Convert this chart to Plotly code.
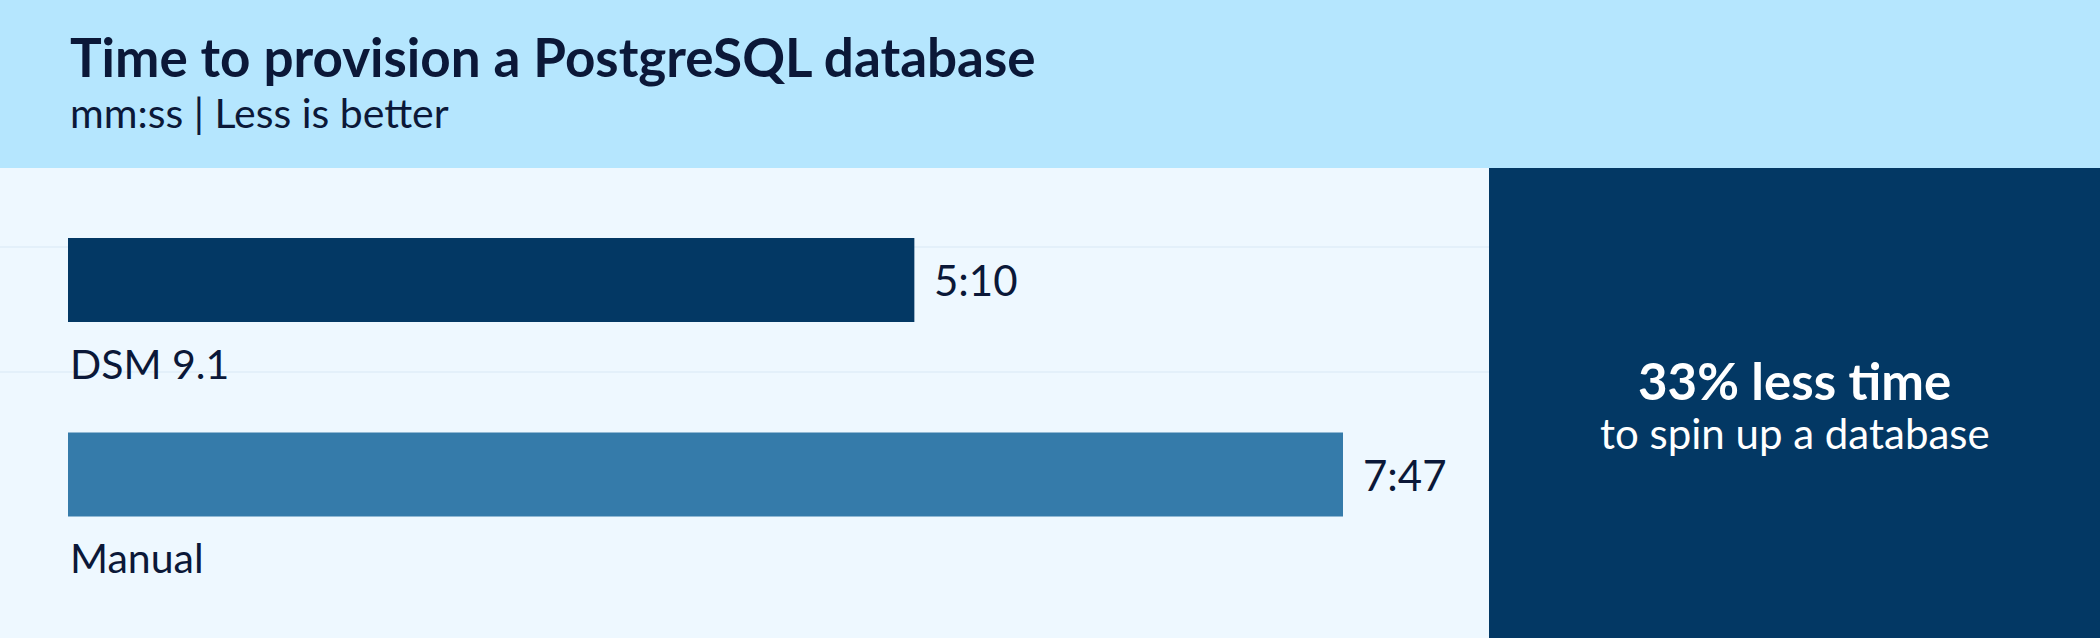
import plotly.graph_objects as go

# ---- data ----
categories = ["DSM 9.1", "Manual"]
seconds = [310, 467]          # 5:10 and 7:47
bar_colors = ["#033864", "#357BAA"]
title = "Time to provision a PostgreSQL database"
subtitle = "mm:ss | Less is better"
callout_main = "33% less time"
callout_sub = "to spin up a database"

def mmss(s):
    return f"{s // 60}:{s % 60:02d}"

W, H = 2100, 638
L, R, T, B = 68, 611, 168, 0
pw, ph = W - L - R, H - T - B

HEADER = "#B5E6FE"
BODY = "#EEF8FF"
NAVY = "#033864"
TXT = "#0B1838"
FONT = "Lato"

fig = go.Figure()
fig.add_trace(go.Bar(
    y=categories, x=seconds, orientation="h",
    marker=dict(color=bar_colors, line=dict(width=0)),
    width=0.432, hoverinfo="skip", showlegend=False,
))

px_per_unit = 194.5
top = -(280 - T) / px_per_unit
bottom = top + ph / px_per_unit

xmax = pw / (1275 / 467)

fig.update_layout(
    width=W, height=H,
    margin=dict(l=L, r=R, t=T, b=B, pad=0),
    paper_bgcolor=BODY, plot_bgcolor=BODY,
    xaxis=dict(range=[0, xmax], visible=False, fixedrange=True),
    yaxis=dict(range=[bottom, top], visible=False, type="category", fixedrange=True),
    font=dict(family=FONT, color=TXT),
)

xl = -L / pw
xr = (W - L) / pw + 0.01
shapes = [
    dict(type="rect", xref="paper", yref="paper", x0=xl - 0.01, x1=xr, y0=1, y1=1 + T / ph + 0.01,
         fillcolor=HEADER, line=dict(width=0), layer="below"),
    dict(type="rect", xref="paper", yref="paper", x0=1, x1=xr, y0=-0.01, y1=1,
         fillcolor=NAVY, line=dict(width=0), layer="below"),
]
for gy in [247, 372]:
    yp = (H - gy) / ph
    shapes.append(dict(type="line", xref="paper", yref="paper", x0=xl, x1=1, y0=yp, y1=yp,
                       line=dict(color="#DFEEF9", width=1.5), layer="below"))
fig.update_layout(shapes=shapes)

ann = []
# title / subtitle
ann.append(dict(text=title, xref="paper", yref="paper", x=0, y=1 + (T - 57) / ph,
                xanchor="left", yanchor="middle", showarrow=False,
                font=dict(family=FONT, size=53, color=TXT, weight="bold")))
ann.append(dict(text=subtitle, xref="paper", yref="paper", x=0, y=1 + (T - 112) / ph,
                xanchor="left", yanchor="middle", showarrow=False,
                font=dict(family=FONT, size=41, color=TXT)))
# category labels and values
for c, s in zip(categories, seconds):
    ann.append(dict(text=c, x=0, y=c, xref="x", yref="y", xanchor="left", yanchor="middle",
                    yshift=-83, showarrow=False, font=dict(family=FONT, size=41, color=TXT)))
    ann.append(dict(text=mmss(s), x=s, y=c, xref="x", yref="y", xanchor="left", yanchor="middle",
                    xshift=18, showarrow=False, font=dict(family=FONT, size=42, color=TXT)))
# callout
cx = (1794.5 - L) / pw
ann.append(dict(text=callout_main, xref="paper", yref="paper", x=cx, y=(H - 380) / ph,
                xanchor="center", yanchor="middle", showarrow=False,
                font=dict(family=FONT, size=51, color="white", weight="bold")))
ann.append(dict(text=callout_sub, xref="paper", yref="paper", x=cx, y=(H - 433) / ph,
                xanchor="center", yanchor="middle", showarrow=False,
                font=dict(family=FONT, size=42, color="white")))
fig.update_layout(annotations=ann)

fig.write_html("out.html", config=dict(displayModeBar=False))
